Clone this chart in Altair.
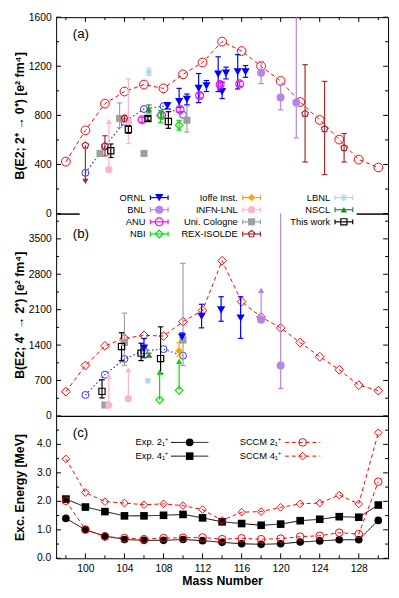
import json
import altair as alt
import pandas as pd

FONT = "Liberation Sans"
W, HA, HB, HC = 338, 200, 206, 145

# ---------------- data ----------------
mass = list(range(98, 131, 2))
sccm_b2 = [423, 678, 896, 994, 1051, 1020, 1134, 1231, 1401, 1324, 1200, 1080, 909, 763, 603, 440, 376]
sccm_b4 = [480, 996, 1385, 1534, 1592, 1579, 1864, 2084, 3068, 2259, 1955, 1741, 1450, 1171, 913, 608, 499]
exp_e2 = [1.40, 1.00, 0.78, 0.66, 0.63, 0.63, 0.66, 0.62, 0.56, 0.51, 0.49, 0.51, 0.57, 0.61, 0.65, 0.65, 1.33]
exp_e4 = [2.08, 1.80, 1.64, 1.49, 1.49, 1.51, 1.54, 1.42, 1.28, 1.22, 1.16, 1.20, 1.32, 1.37, 1.46, 1.44, 1.87]
sccm_e2 = [2.02, 1.01, 0.76, 0.71, 0.67, 0.71, 0.72, 0.73, 0.67, 0.70, 0.67, 0.69, 0.76, 0.79, 0.90, 0.85, 2.69]
sccm_e4 = [3.49, 2.31, 1.99, 1.94, 1.88, 1.91, 1.85, 1.71, 1.33, 1.62, 1.64, 1.79, 1.91, 1.94, 2.22, 1.91, 4.41]

blue_mass = [100, 102, 104, 106, 108, 110]
blue_b2 = [332, 546, 747, 852, 875, 805]
blue_b4 = [414, 816, 1126, 1288, 1320, 1190]

sources = ["ORNL", "BNL", "ANU", "NBI", "Ioffe Inst.", "INFN-LNL", "Uni. Cologne",
           "REX-ISOLDE", "LBNL", "NSCL", "This work"]
filled_sources = ["ORNL", "BNL", "Ioffe Inst.", "INFN-LNL", "Uni. Cologne", "NSCL"]

# panel (a): B(E2; 2+ -> 0+)
a_src = (["ORNL"] * 10 + ["BNL"] * 3 + ["ANU"] * 6 + ["NBI"] * 2 + ["NSCL"] + ["LBNL"]
         + ["INFN-LNL"] * 2 + ["Uni. Cologne"] * 4 + ["REX-ISOLDE"] * 6 + ["This work"] * 4)
a_mass = [108.4, 109.6, 110.4, 111.6, 112.4, 113.6, 114.0, 114.4, 115.6, 116.4,
          118.0, 120.0, 121.6,
          105.8, 107.8, 109.7, 111.7, 113.8, 115.8,
          107.7, 109.6,
          106.5,
          106.5,
          102.4, 104.4,
          101.5, 103.5, 106.0, 110.4,
          100.0, 102.0, 104.0, 122.5, 124.5, 126.5,
          102.6, 104.4, 106.4, 108.5]
a_val = [878, 912, 930, 1020, 1040, 1136, 994, 1144, 1154, 1154,
         1147, 945, 904,
         765, 800, 848, 962, 1051, 1057,
         800, 719,
         852,
         1154,
         358, 750,
         490, 775, 490, 760,
         556, 551, 775, 814, 690, 536,
         512, 685, 775, 750]
a_lo = [852, 865, 886, 904, 994, 994, 937, 1097, 1015, 1110,
        1059, 845, 616,
        745, 780, 828, 942, 1031, 1037,
        740, 680,
        820,
        1125,
        None, 570,
        470, 700, 478, 664,
        None, 470, 750, 420, 317, 420,
        457, 655, 760, 695]
a_hi = [905, 1020, 974, 1141, 1084, 1277, 1071, 1193, 1295, 1206,
        1239, 1051, 1900,
        785, 820, 868, 982, 1071, 1077,
        840, 760,
        885,
        1185,
        None, 1097,
        510, 902, 502, 878,
        None, 634, 800, 1213, 1077, 652,
        567, 715, 790, 830]
a_arr_src = ["INFN-LNL", "REX-ISOLDE"]
a_arr_mass = [102.4, 100.0]
a_arr_from = [358, 556]
a_arr_to = [750, 262]

# panel (b): B(E2; 4+ -> 2+)
b_src = (["This work"] * 4 + ["Uni. Cologne"] * 3 + ["INFN-LNL"] * 2 + ["LBNL"] + ["ORNL"] * 5
         + ["NSCL"] + ["NBI"] * 2 + ["Ioffe Inst."] + ["BNL"] * 2)
b_mass = [101.7, 103.7, 105.7, 107.7,
          102.0, 104.0, 110.0,
          102.4, 104.4,
          106.4,
          106.0, 109.9, 111.9, 113.9, 115.9,
          106.5,
          107.6, 109.6,
          109.6,
          118.0, 120.0]
b_val = [485, 1372, 1240, 1133,
         215, 1450, 1500,
         215, 340,
         693,
         1340, 1560, 1967, 2097, 1935,
         1204,
         317, 505,
         1288,
         1903, 996]
b_lo = [355, 1093, 1093, 835,
        None, 1000, 996,
        None, None,
        660,
        1150, 1480, 1741, 1871, 1534,
        1170,
        None, None,
        1180,
        None, 544]
b_hi = [715, 1644, 1437, 1761,
        None, 2032, 3016,
        None, None,
        725,
        1530, 1640, 2207, 2356, 2356,
        1240,
        None, None,
        1450,
        None, 4600]
b_arr_src = ["INFN-LNL", "INFN-LNL", "NBI", "NBI", "BNL"]
b_arr_mass = [102.4, 104.4, 107.6, 109.6, 118.0]
b_arr_from = [215, 340, 317, 505, 1903]
b_arr_to = [790, 915, 868, 1080, 2485]

c_series = ["Exp. 2\u2081\u207a", "Exp. 4\u2081\u207a", "SCCM 2\u2081\u207a", "SCCM 4\u2081\u207a"]

# axis ticks
a_major = [0, 400, 800, 1200, 1600]
a_minor = [200, 600, 1000, 1400]
b_major = [0, 700, 1400, 2100, 2800, 3500]
b_minor = [350, 1050, 1750, 2450, 3150, 3850]
c_major = [0.0, 1.0, 2.0, 3.0, 4.0]
c_minor = [0.5, 1.5, 2.5, 3.5, 4.5]
x_major = [100, 104, 108, 112, 116, 120, 124, 128]
x_minor = [98, 102, 106, 110, 114, 118, 122, 126, 130]

# ---------------- styles ----------------
colors = ["#0000ff", "#b784e8", "#ff00ff", "#00e000", "#ffa500", "#ffb6c1", "#a0a0a0",
          "#a52a2a", "#add8e6", "#228b22", "#000000"]
PENT = "M0,-1L0.951,-0.309L0.588,0.809L-0.588,0.809L-0.951,-0.309Z"
STAR = "M-1,0L1,0M0,-1L0,1M-0.7,-0.7L0.7,0.7M-0.7,0.7L0.7,-0.7"
VBAR = "M0,-1L0,1"
shapes = ["triangle-down", "circle", "circle", "diamond", "diamond", "circle", "square",
          PENT, STAR, "triangle-up", "square"]
sizes = [70, 40, 70, 70, 45, 50, 36, 80, 80, 55, 85]

RED = "#ff0000"
BLUE = "#2a2aff"

xs = alt.Scale(domain=[97, 131], nice=False, zero=False)
ya = alt.Scale(domain=[0, 1600], nice=False, clamp=True)
yb = alt.Scale(domain=[0, 4000], nice=False, clamp=True)
yc = alt.Scale(domain=[0, 5], nice=False)
cs = alt.Scale(domain=sources, range=colors)
ss = alt.Scale(domain=sources, range=shapes)
zs = alt.Scale(domain=sources, range=sizes)

COL = alt.Color("source:N", scale=cs, legend=None)
SHP = alt.Shape("source:N", scale=ss, legend=None)
SIZ = alt.Size("source:N", scale=zs, legend=None)
X = alt.X("mass:Q", scale=xs, axis=None)
OPEN_EXPR = "indexof(" + json.dumps(filled_sources) + ", datum.source) < 0"
FILL_EXPR = "indexof(" + json.dumps(filled_sources) + ", datum.source) >= 0"


def yaxis(title, values, h, fmt, labels=True):
    return alt.Axis(values=values, title=title, titleX=-37, titleY=h / 2, titleBaseline="middle",
                    titleAngle=-90, titleAlign="center", format=fmt, labelOverlap=False,
                    labels=labels)


def tick_layers(ys, major, minor, h, xaxis_off, xtop, xbottom):
    out = []
    for vals, ln in ((major, 5), (minor, 3)):
        d = alt.Chart(pd.DataFrame({"t": vals}))
        out.append(d.mark_rule(color="black", strokeWidth=1).encode(
            y=alt.Y("t:Q", scale=ys), x=alt.value(0), x2=alt.value(ln)))
        out.append(d.mark_rule(color="black", strokeWidth=1).encode(
            y=alt.Y("t:Q", scale=ys), x=alt.value(W - ln), x2=alt.value(W)))
    XT = alt.X("t:Q", scale=xs, axis=None) if xaxis_off else alt.X("t:Q", scale=xs)
    for vals, ln in ((x_major, 5), (x_minor, 3)):
        d = alt.Chart(pd.DataFrame({"t": vals}))
        if xtop:
            out.append(d.mark_rule(color="black", strokeWidth=1).encode(
                x=XT, y=alt.value(0), y2=alt.value(ln)))
        if xbottom:
            out.append(d.mark_rule(color="black", strokeWidth=1).encode(
                x=XT, y=alt.value(h - ln), y2=alt.value(h)))
    return out


def exp_layers(pts, arr, ys, ymax):
    def Y(f):
        return alt.Y(f + ":Q", scale=ys)
    base = alt.Chart(pts)
    bars = base.mark_rule(strokeWidth=1.2).encode(x=X, y=Y("lo"), y2="hi:Q", color=COL)
    cap_lo = base.mark_point(shape="stroke", size=30, strokeWidth=1.2, opacity=1).encode(
        x=X, y=Y("lo"), color=COL)
    cap_hi = base.transform_filter(f"datum.hi <= {ymax}").mark_point(
        shape="stroke", size=30, strokeWidth=1.2, opacity=1).encode(x=X, y=Y("hi"), color=COL)
    ac = alt.Chart(arr)
    arr_line = ac.mark_rule(strokeWidth=1.2).encode(x=X, y=Y("y0"), y2="y1:Q", color=COL)
    up = ac.transform_filter("datum.y1 > datum.y0").mark_point(
        shape="triangle-up", filled=True, size=40, opacity=1).encode(x=X, y=Y("y1"), color=COL)
    down = ac.transform_filter("datum.y1 < datum.y0").mark_point(
        shape="triangle-down", filled=True, size=40, opacity=1).encode(x=X, y=Y("y1"), color=COL)
    filled = base.transform_filter(FILL_EXPR).mark_point(filled=True, opacity=1).encode(
        x=X, y=Y("val"), color=COL, shape=SHP, size=SIZ)
    opened = base.transform_filter(OPEN_EXPR).mark_point(filled=False, opacity=1, strokeWidth=1.2).encode(
        x=X, y=Y("val"), color=COL, shape=SHP, size=SIZ)
    return [bars, cap_lo, cap_hi, arr_line, up, down, filled, opened]


def calc_layers(df, field, ys, axis, red_shape, blue_df):
    line = alt.Chart(df).mark_line(color=RED, strokeDash=[4, 3], strokeWidth=1).encode(
        x=X, y=alt.Y(field + ":Q", scale=ys, axis=axis))
    pts = alt.Chart(df).mark_point(shape=red_shape, color=RED, size=80, strokeWidth=1, opacity=1).encode(
        x=X, y=alt.Y(field + ":Q", scale=ys))
    bl = alt.Chart(blue_df).mark_line(color=BLUE, strokeDash=[1.5, 2.5], strokeWidth=1.2).encode(
        x=X, y=alt.Y("val:Q", scale=ys))
    bp = alt.Chart(blue_df).mark_point(shape="circle", color=BLUE, size=50, strokeWidth=1, opacity=1).encode(
        x=X, y=alt.Y("val:Q", scale=ys))
    return [line, pts, bl, bp]


def tag(t, x, y):
    return alt.Chart(pd.DataFrame({"t": [t]})).mark_text(
        font=FONT, fontSize=13.5, align="left", baseline="middle", color="black").encode(
        text="t:N", x=alt.value(x), y=alt.value(y))


def legend_ab():
    leg = pd.DataFrame({"source": sources})
    leg["col"] = [i // 4 for i in range(len(sources))]
    leg["row"] = [i % 4 for i in range(len(sources))]
    base = alt.Chart(leg).transform_calculate(
        tx="91 + 94*datum.col", sx="105 + 94*datum.col", sx1="96 + 94*datum.col",
        sx2="114 + 94*datum.col", ty="-16.3 + 12.35*datum.row")
    LY = alt.Y("ty:Q", scale=None, axis=None)
    box = alt.Chart(pd.DataFrame({"k": [0]})).mark_rect(fill="white").encode(
        x=alt.value(24), x2=alt.value(306), y=alt.value(-25), y2=alt.value(28))
    txt = base.mark_text(font=FONT, fontSize=9.5, align="right", baseline="middle", color="black").encode(
        x=alt.X("tx:Q", scale=None, axis=None), y=LY, text="source:N")
    bar = base.mark_rule(strokeWidth=1.2).encode(
        x=alt.X("sx1:Q", scale=None, axis=None), x2="sx2:Q", y=LY, color=COL)
    c1 = base.mark_point(shape=VBAR, size=25, strokeWidth=1.2, opacity=1).encode(
        x=alt.X("sx1:Q", scale=None, axis=None), y=LY, color=COL)
    c2 = base.mark_point(shape=VBAR, size=25, strokeWidth=1.2, opacity=1).encode(
        x=alt.X("sx2:Q", scale=None, axis=None), y=LY, color=COL)
    mf = base.transform_filter(FILL_EXPR).mark_point(filled=True, opacity=1).encode(
        x=alt.X("sx:Q", scale=None, axis=None), y=LY, color=COL, shape=SHP, size=SIZ)
    mo = base.transform_filter(OPEN_EXPR).mark_point(filled=False, opacity=1, strokeWidth=1.2).encode(
        x=alt.X("sx:Q", scale=None, axis=None), y=LY, color=COL, shape=SHP, size=SIZ)
    return [box, txt, bar, c1, c2, mf, mo]


# ---------------- panel (a) ----------------
pts_a = pd.DataFrame({"source": a_src, "mass": a_mass, "val": a_val, "lo": a_lo, "hi": a_hi})
arr_a = pd.DataFrame({"source": a_arr_src, "mass": a_arr_mass, "y0": a_arr_from, "y1": a_arr_to})
calc_a = pd.DataFrame({"mass": mass, "b": sccm_b2})
blue_a = pd.DataFrame({"mass": blue_mass, "val": blue_b2})
ax_a = yaxis("B(E2; 2\u207a \u2192 0\u207a) [e\u00b2 fm\u2074]", a_major, HA, "d")
panel_a = alt.layer(
    *calc_layers(calc_a, "b", ya, ax_a, "circle", blue_a),
    *tick_layers(ya, a_major, a_minor, HA, True, True, False),
    *exp_layers(pts_a, arr_a, ya, 1600),
    tag("(a)", 17, 17),
).properties(width=W, height=HA)

# ---------------- panel (b) ----------------
pts_b = pd.DataFrame({"source": b_src, "mass": b_mass, "val": b_val, "lo": b_lo, "hi": b_hi})
arr_b = pd.DataFrame({"source": b_arr_src, "mass": b_arr_mass, "y0": b_arr_from, "y1": b_arr_to})
calc_b = pd.DataFrame({"mass": mass, "b": sccm_b4})
blue_b = pd.DataFrame({"mass": blue_mass, "val": blue_b4})
ax_b = yaxis("B(E2; 4\u207a \u2192 2\u207a) [e\u00b2 fm\u2074]", b_major, HB, "d")
panel_b = alt.layer(
    *legend_ab(),
    *calc_layers(calc_b, "b", yb, ax_b, "diamond", blue_b),
    *tick_layers(yb, b_major, b_minor, HB, True, False, False),
    *exp_layers(pts_b, arr_b, yb, 4000),
    tag("(b)", 17, 21),
).properties(width=W, height=HB)

# ---------------- panel (c) ----------------
rows = []
for s, vals in zip(c_series, [exp_e2, exp_e4, sccm_e2, sccm_e4]):
    for m, v in zip(mass, vals):
        rows.append({"series": s, "mass": m, "e": v})
cdf = pd.DataFrame(rows)
c_color = alt.Scale(domain=c_series, range=["#000000", "#000000", RED, RED])
c_dash = alt.Scale(domain=c_series, range=[[1, 0], [1, 0], [4, 3], [4, 3]])
c_shape = alt.Scale(domain=c_series, range=["circle", "square", "circle", "diamond"])
c_size = alt.Scale(domain=c_series, range=[60, 60, 80, 60])
CC = alt.Color("series:N", scale=c_color, legend=None)
CD = alt.StrokeDash("series:N", scale=c_dash, legend=None)
CS = alt.Shape("series:N", scale=c_shape, legend=None)
CZ = alt.Size("series:N", scale=c_size, legend=None)
EXP_EXPR = "indexof(datum.series, 'Exp') == 0"
SCCM_EXPR = "indexof(datum.series, 'SCCM') == 0"

xax_c = alt.Axis(values=x_major, title="Mass Number", titlePadding=1, labelOverlap=False, format="d")
ax_c = yaxis("Exc. Energy [MeV]", c_major, HC, ".1f", labels=False)
XC = alt.X("mass:Q", scale=xs)
c_lines = alt.Chart(cdf).mark_line(strokeWidth=1).encode(
    x=alt.X("mass:Q", scale=xs, axis=xax_c), y=alt.Y("e:Q", scale=yc, axis=ax_c), color=CC, strokeDash=CD)
c_exp = alt.Chart(cdf).transform_filter(EXP_EXPR).mark_point(filled=True, opacity=1).encode(
    x=XC, y=alt.Y("e:Q", scale=yc), color=CC, shape=CS, size=CZ)
c_sccm = alt.Chart(cdf).transform_filter(SCCM_EXPR).mark_point(filled=False, opacity=1, strokeWidth=1).encode(
    x=XC, y=alt.Y("e:Q", scale=yc), color=CC, shape=CS, size=CZ)
# y tick labels of panel (c), placed through the y scale
c_labels = alt.Chart(pd.DataFrame({"t": c_major})).transform_calculate(
    lab="format(datum.t, '.1f')").mark_text(
    font=FONT, fontSize=10.5, align="right", baseline="middle", color="black").encode(
    y=alt.Y("t:Q", scale=yc), x=alt.value(-5), text="lab:N")

cleg = pd.DataFrame({"series": c_series})
cleg["col"] = [i // 2 for i in range(len(c_series))]
cleg["row"] = [i % 2 for i in range(len(c_series))]
cbase = alt.Chart(cleg).transform_calculate(
    tx="114 + 115*datum.col", lx1="117 + 116*datum.col", lx2="155 + 114*datum.col",
    mx="136 + 115*datum.col", ty="27 + 14*datum.row")
CLY = alt.Y("ty:Q", scale=None, axis=None)
cl_txt = cbase.mark_text(font=FONT, fontSize=9.5, align="right", baseline="middle", color="black").encode(
    x=alt.X("tx:Q", scale=None, axis=None), y=CLY, text="series:N")
cl_line = cbase.mark_rule(strokeWidth=1).encode(
    x=alt.X("lx1:Q", scale=None, axis=None), x2="lx2:Q", y=CLY, color=CC, strokeDash=CD)
cl_exp = cbase.transform_filter(EXP_EXPR).mark_point(filled=True, opacity=1).encode(
    x=alt.X("mx:Q", scale=None, axis=None), y=CLY, color=CC, shape=CS, size=CZ)
cl_sccm = cbase.transform_filter(SCCM_EXPR).mark_point(filled=False, opacity=1, strokeWidth=1).encode(
    x=alt.X("mx:Q", scale=None, axis=None), y=CLY, color=CC, shape=CS, size=CZ)

panel_c = alt.layer(
    c_lines,
    *tick_layers(yc, c_major, c_minor, HC, False, False, True),
    c_labels, c_exp, c_sccm, cl_txt, cl_line, cl_exp, cl_sccm, tag("(c)", 17, 17)
).properties(width=W, height=HC)

chart = alt.vconcat(panel_a, panel_b, panel_c, spacing=0, bounds="flush").resolve_scale(
    color="independent", shape="independent", size="independent", strokeDash="independent"
).properties(
    padding={"left": 5, "top": -2, "right": 2, "bottom": 0}
).configure_view(stroke="black", strokeWidth=1).configure_axis(
    labelFont=FONT, titleFont=FONT, labelFontSize=10.5, titleFontSize=12.5, titleFontWeight="bold",
    labelColor="black", titleColor="black", grid=False, domain=False, ticks=False, labelPadding=5,
    labelOverlap=False
)

chart.save("out.html", embed_options={"renderer": "svg", "actions": False})
